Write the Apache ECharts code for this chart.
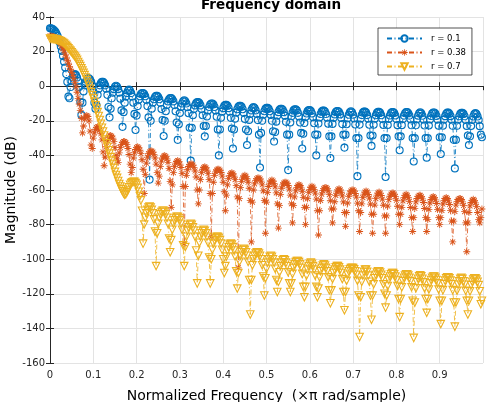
<!DOCTYPE html>
<html>
<head>
<meta charset="utf-8">
<script src="https://cdn.jsdelivr.net/npm/echarts@6/dist/echarts.min.js"></script>
<style>
  html, body { margin: 0; padding: 0; background: #fff; }
  #main { width: 487px; height: 402px; }
</style>
</head>
<body>
<div id="main"></div>
<script>
// normalized frequency (x pi rad/sample), 400 samples
const freq = [
  0, 0.0025, 0.005, 0.0075, 0.01, 0.0125, 0.015, 0.0175, 0.02, 0.0225,
  0.025, 0.0275, 0.03, 0.0325, 0.035, 0.0375, 0.04, 0.0425, 0.045, 0.0475,
  0.05, 0.0525, 0.055, 0.0575, 0.06, 0.0625, 0.065, 0.0675, 0.07, 0.0725,
  0.075, 0.0775, 0.08, 0.0825, 0.085, 0.0875, 0.09, 0.0925, 0.095, 0.0975,
  0.1, 0.1025, 0.105, 0.1075, 0.11, 0.1125, 0.115, 0.1175, 0.12, 0.1225,
  0.125, 0.1275, 0.13, 0.1325, 0.135, 0.1375, 0.14, 0.1425, 0.145, 0.1475,
  0.15, 0.1525, 0.155, 0.1575, 0.16, 0.1625, 0.165, 0.1675, 0.17, 0.1725,
  0.175, 0.1775, 0.18, 0.1825, 0.185, 0.1875, 0.19, 0.1925, 0.195, 0.1975,
  0.2, 0.2025, 0.205, 0.2075, 0.21, 0.2125, 0.215, 0.2175, 0.22, 0.2225,
  0.225, 0.2275, 0.23, 0.2325, 0.235, 0.2375, 0.24, 0.2425, 0.245, 0.2475,
  0.25, 0.2525, 0.255, 0.2575, 0.26, 0.2625, 0.265, 0.2675, 0.27, 0.2725,
  0.275, 0.2775, 0.28, 0.2825, 0.285, 0.2875, 0.29, 0.2925, 0.295, 0.2975,
  0.3, 0.3025, 0.305, 0.3075, 0.31, 0.3125, 0.315, 0.3175, 0.32, 0.3225,
  0.325, 0.3275, 0.33, 0.3325, 0.335, 0.3375, 0.34, 0.3425, 0.345, 0.3475,
  0.35, 0.3525, 0.355, 0.3575, 0.36, 0.3625, 0.365, 0.3675, 0.37, 0.3725,
  0.375, 0.3775, 0.38, 0.3825, 0.385, 0.3875, 0.39, 0.3925, 0.395, 0.3975,
  0.4, 0.4025, 0.405, 0.4075, 0.41, 0.4125, 0.415, 0.4175, 0.42, 0.4225,
  0.425, 0.4275, 0.43, 0.4325, 0.435, 0.4375, 0.44, 0.4425, 0.445, 0.4475,
  0.45, 0.4525, 0.455, 0.4575, 0.46, 0.4625, 0.465, 0.4675, 0.47, 0.4725,
  0.475, 0.4775, 0.48, 0.4825, 0.485, 0.4875, 0.49, 0.4925, 0.495, 0.4975,
  0.5, 0.5025, 0.505, 0.5075, 0.51, 0.5125, 0.515, 0.5175, 0.52, 0.5225,
  0.525, 0.5275, 0.53, 0.5325, 0.535, 0.5375, 0.54, 0.5425, 0.545, 0.5475,
  0.55, 0.5525, 0.555, 0.5575, 0.56, 0.5625, 0.565, 0.5675, 0.57, 0.5725,
  0.575, 0.5775, 0.58, 0.5825, 0.585, 0.5875, 0.59, 0.5925, 0.595, 0.5975,
  0.6, 0.6025, 0.605, 0.6075, 0.61, 0.6125, 0.615, 0.6175, 0.62, 0.6225,
  0.625, 0.6275, 0.63, 0.6325, 0.635, 0.6375, 0.64, 0.6425, 0.645, 0.6475,
  0.65, 0.6525, 0.655, 0.6575, 0.66, 0.6625, 0.665, 0.6675, 0.67, 0.6725,
  0.675, 0.6775, 0.68, 0.6825, 0.685, 0.6875, 0.69, 0.6925, 0.695, 0.6975,
  0.7, 0.7025, 0.705, 0.7075, 0.71, 0.7125, 0.715, 0.7175, 0.72, 0.7225,
  0.725, 0.7275, 0.73, 0.7325, 0.735, 0.7375, 0.74, 0.7425, 0.745, 0.7475,
  0.75, 0.7525, 0.755, 0.7575, 0.76, 0.7625, 0.765, 0.7675, 0.77, 0.7725,
  0.775, 0.7775, 0.78, 0.7825, 0.785, 0.7875, 0.79, 0.7925, 0.795, 0.7975,
  0.8, 0.8025, 0.805, 0.8075, 0.81, 0.8125, 0.815, 0.8175, 0.82, 0.8225,
  0.825, 0.8275, 0.83, 0.8325, 0.835, 0.8375, 0.84, 0.8425, 0.845, 0.8475,
  0.85, 0.8525, 0.855, 0.8575, 0.86, 0.8625, 0.865, 0.8675, 0.87, 0.8725,
  0.875, 0.8775, 0.88, 0.8825, 0.885, 0.8875, 0.89, 0.8925, 0.895, 0.8975,
  0.9, 0.9025, 0.905, 0.9075, 0.91, 0.9125, 0.915, 0.9175, 0.92, 0.9225,
  0.925, 0.9275, 0.93, 0.9325, 0.935, 0.9375, 0.94, 0.9425, 0.945, 0.9475,
  0.95, 0.9525, 0.955, 0.9575, 0.96, 0.9625, 0.965, 0.9675, 0.97, 0.9725,
  0.975, 0.9775, 0.98, 0.9825, 0.985, 0.9875, 0.99, 0.9925, 0.995, 0.9975
];

// magnitude (dB), r = 0.1
const magR010 = [
  33.5, 33.4, 33.2, 32.8, 32.2, 31.4, 30.3, 29, 27.3, 25.3, 23, 20.4, 17.4, 14.2, 10.8, 7, 2.5,
  -6, -7, -0.5, 3, 5, 6.4, 7, 6.4, 5, 3, -0.5, -9,
  -16.6, -9.5, -3, 0.5, 2.5, 3.8, 4.5, 4.5, 3.8, 2.5, 0.5, -3, -9.5,
  -13, -11, -5, -1.5, 0.5, 1.8, 2.5, 2.5, 1.8, 0.5, -1.5, -5, -12,
  -18, -13, -7, -3.7, -1.7, -0.3, 0.3, -0.3, -1.7, -3.7, -7.2, -14,
  -23.5, -15, -9.5, -6, -4, -2.6, -2, -2.6, -4, -6, -9.5, -16,
  -25.3, -17, -11.5, -7.8, -5.8, -4.5, -3.9, -3.9, -4.5, -5.8, -7.9, -11.5, -18,
  -54, -20, -13, -9.5, -7.5, -6.2, -5.6, -5.6, -6.2, -7.5, -9.6, -13.2, -19.5,
  -28.8, -20, -14.5, -10.8, -8.8, -7.5, -6.9, -6.9, -7.5, -8.8, -10.9, -14.5, -21,
  -31, -22, -15.5, -12, -10, -8.7, -8.1, -8.7, -10, -12.1, -15.6, -24,
  -43, -24, -16.8, -13.2, -11.1, -9.8, -9.2, -9.2, -9.8, -11.1, -13.2, -16.8, -23,
  -29, -23, -17.5, -14, -12, -10.6, -10, -10, -10.6, -12, -14, -17.6, -25,
  -40, -25, -18.2, -14.7, -12.7, -11.3, -10.7, -10.7, -11.3, -12.7, -14.8, -18.3, -24.5,
  -36, -25, -18.8, -15.3, -13.3, -11.9, -11.3, -11.3, -11.9, -13.3, -15.4, -18.9, -25,
  -34, -26, -19.5, -16, -14, -12.6, -12, -12.6, -14, -16, -19.6, -28,
  -47, -27, -20, -16.5, -14.5, -13.1, -12.5, -12.5, -13.1, -14.5, -16.6, -20, -26,
  -32, -26.5, -20.5, -17, -15, -13.6, -13, -13, -13.6, -15, -17.1, -20.6, -28,
  -48.5, -28, -21, -17.4, -15.4, -14, -13.4, -13.4, -14, -15.4, -17.5, -21, -27,
  -36, -27.5, -21.3, -17.8, -15.8, -14.4, -13.8, -13.8, -14.4, -15.8, -17.9, -21.4, -28,
  -40, -28, -21.6, -18.1, -16.1, -14.7, -14.1, -14.1, -14.7, -16.1, -18.2, -21.7, -29,
  -41.5, -29, -21.8, -18.3, -16.3, -14.9, -14.3, -14.3, -14.9, -16.3, -18.4, -21.9, -28,
  -35.5, -28, -22, -18.5, -16.5, -15.1, -14.5, -15.1, -16.5, -18.6, -22.1, -30,
  -52, -30, -22.2, -18.7, -16.7, -15.3, -14.7, -14.7, -15.3, -16.7, -18.8, -22.3, -28.5,
  -34.5, -28.5, -22.3, -18.8, -16.8, -15.4, -14.8, -14.8, -15.4, -16.8, -18.9, -22.4, -30,
  -52.5, -30, -22.4, -18.9, -16.9, -15.5, -14.9, -14.9, -15.5, -16.9, -19, -22.5, -29,
  -37, -29, -22.5, -19, -17, -15.6, -15, -15, -15.6, -17, -19.1, -22.6, -30,
  -43.5, -30, -22.6, -19.1, -17.1, -15.7, -15.1, -15.7, -17.1, -19.2, -22.7, -30,
  -41.3, -30, -22.7, -19.2, -17.2, -15.8, -15.2, -15.2, -15.8, -17.2, -19.3, -22.8, -29.5,
  -39.2, -29.5, -22.8, -19.3, -17.3, -15.9, -15.3, -15.3, -15.9, -17.3, -19.4, -22.9, -31,
  -47.5, -31, -22.9, -19.4, -17.4, -16, -15.4, -15.4, -16, -17.4, -19.5, -23, -28.5,
  -34, -29, -23, -19.5, -17.5, -16.1, -15.5, -16.1, -17.5, -19.6, -23.1, -28,
  -29.5
];

// magnitude (dB), r = 0.38
const magR038 = [
  29, 28.95, 28.8, 28.6, 28.3, 27.9, 27.4, 26.8, 26.1, 25.3,
  24.4, 23.3, 22, 20.4, 18.5, 16.8, 15, 13.3, 11.5, 9.8,
  8, 6.3, 4.5, 2.2, -0.5, -3.5, -7, -10.3, -14, -18.5,
  -27, -23, -19, -17.3, -17, -17.5, -20, -26,
  -34, -36, -30, -27, -25, -23.9, -23.5, -24, -25.5, -27.5, -31, -38,
  -46, -41, -35, -31.5, -29.7, -28.8, -28.5, -28.9, -30, -32, -35.5, -40,
  -42, -44, -38.5, -35.5, -33.6, -32.5, -32, -32, -32.6, -33.8, -36, -39.5, -45,
  -50, -47, -41.5, -38.5, -36.6, -35.5, -35, -35.6, -37, -39, -42.5, -48,
  -62, -51, -44.5, -41, -39, -38, -37.5, -37.5, -38.1, -39.4, -41.5, -45, -50,
  -56, -52, -46.5, -43.3, -41.5, -40.5, -40, -40.6, -42, -44, -47.5, -55,
  -70, -57, -50, -46.5, -44.5, -43.5, -43, -43.6, -45, -47, -50.5, -58,
  -91, -58, -51.5, -48.3, -46.4, -45.4, -45, -45, -45.6, -46.9, -49, -52.5, -60,
  -68, -60, -54, -50, -48, -47, -46.5, -47.1, -48.5, -50.5, -54, -62,
  -87, -62, -55.5, -51.5, -49.5, -48.5, -48, -48, -48.6, -49.9, -52, -55.5, -61,
  -72, -63, -57, -53.3, -51.5, -50.5, -50, -50.6, -52, -54, -57.5, -64,
  -105, -65, -58.5, -55, -53, -52, -51.5, -52.1, -53.5, -55.5, -59, -66,
  -90, -67, -60, -56.5, -54.6, -53.5, -53, -53, -53.6, -54.9, -57, -60.5, -66,
  -85, -67, -61.5, -58, -56, -54.8, -54.2, -54.8, -56.2, -58.2, -61.7, -68,
  -82, -69, -62.5, -59, -57, -56, -55.5, -55.5, -56.1, -57.4, -59.5, -63, -68,
  -79, -69, -64, -60.5, -58.6, -57.4, -56.8, -57.4, -58.8, -60.8, -64.3, -70,
  -80, -70, -65, -61.5, -59.6, -58.4, -57.8, -58.4, -59.8, -61.8, -65.3, -72,
  -86, -72, -66, -62.4, -60.4, -59.2, -58.6, -58.6, -59.2, -60.6, -62.7, -66.2, -71,
  -79, -71, -66.8, -63.1, -61.1, -59.9, -59.3, -59.9, -61.3, -63.4, -66.9, -73,
  -81, -73, -67.5, -63.8, -61.8, -60.6, -60, -60, -60.6, -62, -64.1, -67.6, -72,
  -84, -73, -68, -64.4, -62.4, -61.2, -60.6, -61.2, -62.6, -64.7, -68.2, -74,
  -85, -74, -68.7, -65, -63, -61.8, -61.2, -61.8, -63.2, -65.3, -68.8, -75,
  -85, -75, -69.3, -65.6, -63.6, -62.4, -61.8, -61.8, -62.4, -63.8, -65.9, -69.4, -74,
  -80, -74, -70, -66.3, -64.3, -63.1, -62.5, -63.1, -64.5, -66.6, -70.1, -76,
  -84, -76, -70.6, -66.9, -64.9, -63.7, -63.1, -63.1, -63.7, -65.1, -67.2, -70.7, -76,
  -84, -77, -71.2, -67.5, -65.5, -64.3, -63.7, -64.3, -65.7, -67.8, -71.3, -76,
  -80, -76, -71.8, -68.1, -66.1, -64.9, -64.3, -64.9, -66.3, -68.4, -71.9, -78,
  -90, -78, -72.4, -68.7, -66.7, -65.5, -64.9, -64.9, -65.5, -66.9, -69, -72.5, -79,
  -95.7, -79, -73, -69.2, -67.2, -66, -65.4, -66, -67.4, -69.5, -73, -77,
  -79, -76, -71
];

// magnitude (dB), r = 0.7
const magR070 = [
  27.5, 27.45, 27.4, 27.3, 27.2, 27.05, 26.9, 26.7, 26.5, 26.2,
  25.9, 25.5, 25.1, 24.6, 24, 23.3, 22.6, 21.9, 21.1, 20.4,
  19.6, 18.8, 18, 17.2, 16.3, 15.2, 14, 12.8, 11.6, 10.3,
  9, 7.7, 6.4, 5, 3.5, 2, 0.3, -1.5, -3.4, -5.2,
  -7, -9, -11, -13, -15, -17.2, -19.5, -21.7, -24, -26.2,
  -28.5, -30.8, -33, -35, -37, -39, -41, -43, -45, -47.2,
  -49.5, -51.3, -53, -54.8, -56.5, -58, -59.5, -60.8, -62, -62.8,
  -62.5, -61.3, -60, -58.5, -57, -56, -55.5, -55.2, -55.3, -56,
  -57, -58.8, -61, -63.5, -66, -72,
  -91, -80, -76, -73.5, -71.5, -70.1, -69.5, -70.1, -71.5, -73.5, -77, -84,
  -104, -85, -79.5, -76, -74, -72.7, -72, -72, -72.7, -74, -76, -79.5, -88,
  -96, -89, -83, -79.5, -77.5, -76.2, -75.5, -75.5, -76.2, -77.5, -79.5, -83, -92,
  -104, -93, -87, -83.5, -81.5, -80.1, -79.5, -80.1, -81.5, -83.5, -87, -95,
  -114, -98, -90.5, -87, -85, -83.6, -83, -83.6, -85, -87, -90.5, -99,
  -114, -100, -94.5, -91, -89, -87.7, -87, -87, -87.7, -89, -91, -94.5, -100,
  -108, -104, -98.5, -95, -93, -91.6, -91, -91.6, -93, -95, -98.5, -107,
  -117, -108, -101.5, -98, -96, -94.6, -94, -94.6, -96, -98, -101.5, -112,
  -132, -112, -103.5, -100, -98, -96.7, -96, -96, -96.7, -98, -100, -103.5, -110,
  -121, -111, -105.5, -102, -100, -98.6, -98, -98.6, -100, -102, -105.5, -112,
  -119, -113, -107.5, -104, -102, -100.6, -100, -100.6, -102, -104, -107.5, -114,
  -119, -114, -108.5, -105, -103, -101.7, -101, -101, -101.7, -103, -105, -108.5, -116,
  -122, -116, -109.5, -106, -104, -102.6, -102, -102.6, -104, -106, -109.5, -116,
  -122, -117, -110.5, -107, -105, -103.6, -103, -103.6, -105, -107, -110.5, -118,
  -125.5, -118, -111.5, -108, -106, -104.7, -104, -104, -104.7, -106, -108, -111.5, -119,
  -129.5, -119, -112.5, -109, -107, -105.8, -105.1, -105, -105.1, -105.8, -107, -109, -112.5, -121,
  -145, -122, -113, -109.5, -107.3, -106, -106, -107.3, -109.5, -113, -121,
  -135, -121, -114.5, -111, -109, -107.7, -107, -107, -107.7, -109, -111, -114.5, -120,
  -128, -121, -115.5, -112, -110, -108.7, -108, -108, -108.7, -110, -112, -115.5, -123,
  -133.5, -123, -116.2, -112.7, -110.7, -109.4, -108.7, -108.7, -109.4, -110.7, -112.7, -116.2, -124,
  -145.5, -125, -116.8, -113.3, -111.3, -109.9, -109.3, -109.9, -111.3, -113.3, -116.8, -123,
  -131, -123, -117.5, -114, -112, -110.7, -110, -110, -110.7, -112, -114, -117.5, -124,
  -137.5, -124, -117.9, -114.4, -112.4, -111.1, -110.4, -110.4, -111.1, -112.4, -114.4, -117.9, -125,
  -139, -125, -118.3, -114.8, -112.8, -111.4, -110.8, -111.4, -112.8, -114.8, -118.3, -124,
  -132, -124, -118.5, -115, -113, -111.7, -111, -111, -111.7, -113, -115, -118.5, -126,
  -124
];

const seriesNames = ['r = 0.1', 'r = 0.38', 'r = 0.7'];
const xTicks = [0, 0.1, 0.2, 0.3, 0.4, 0.5, 0.6, 0.7, 0.8, 0.9];
const yTicks = [-160, -140, -120, -100, -80, -60, -40, -20, 0, 20, 40];

const blue = '#0072BD';
const orange = '#D95319';
const yellow = '#EDB120';
const axisColor = '#262626';
const font = '"DejaVu Sans", "Liberation Sans", Arial, sans-serif';

// asterisk marker built from four thin bars
const asterisk = 'path://M8.8 0L11.2 0L11.2 20L8.8 20Z M0 8.8L20 8.8L20 11.2L0 11.2Z ' +
  'M2.1 3.8L3.8 2.1L17.9 16.2L16.2 17.9Z M16.2 2.1L17.9 3.8L3.8 17.9L2.1 16.2Z';

const pairs = (ys) => ys.map((y, i) => [freq[i], y]);
const dashDot = [5, 2.5, 1, 2.5];

const chart = echarts.init(document.getElementById('main'));
const option = {
  animation: false,
  backgroundColor: '#fff',
  title: {
    text: 'Frequency domain',
    left: 266,
    textAlign: 'center',
    top: -7,
    textStyle: { fontFamily: font, fontSize: 13.5, fontWeight: 'bold', color: '#000' }
  },
  legend: {
    data: seriesNames,
    orient: 'vertical',
    left: 378,
    top: 28,
    padding: [6, 6, 4, 8],
    itemGap: 5,
    itemWidth: 35,
    itemHeight: 8,
    backgroundColor: '#fff',
    borderColor: axisColor,
    borderWidth: 0.8,
    borderRadius: 0,
    textStyle: { fontFamily: font, fontSize: 8.5, color: '#000', padding: [0, 0, 0, 4] }
  },
  grid: { left: 50, right: 4, top: 17, bottom: 39, containLabel: false, outerBoundsMode: 'none' },
  xAxis: [
    {
      type: 'value',
      min: xTicks[0],
      max: 1,
      interval: 0.1,
      name: 'Normalized Frequency  (×π rad/sample)',
      nameLocation: 'middle',
      nameGap: 26,
      nameTextStyle: { fontFamily: font, fontSize: 14, color: '#000' },
      axisLine: { show: true, lineStyle: { color: axisColor, width: 1 } },
      axisTick: { show: true, inside: true, length: 4, lineStyle: { color: axisColor } },
      axisLabel: {
        show: true, showMaxLabel: false, margin: 7,
        fontFamily: font, fontSize: 10, color: axisColor,
        formatter: (v) => {
          const t = Math.round(v * 10) / 10;
          return xTicks.indexOf(t) >= 0 ? String(t) : '';
        }
      },
      splitLine: { show: true, lineStyle: { color: '#e3e3e3', width: 1 } }
    },
    {
      type: 'value',
      position: 'top',
      min: xTicks[0],
      max: 1,
      interval: 0.1,
      axisLine: { show: true, lineStyle: { color: axisColor, width: 1 } },
      axisTick: { show: true, inside: true, length: 4, lineStyle: { color: axisColor } },
      axisLabel: { show: false },
      splitLine: { show: false }
    }
  ],
  yAxis: [
    {
      type: 'value',
      min: yTicks[0],
      max: yTicks[yTicks.length - 1],
      interval: 20,
      name: 'Magnitude (dB)',
      nameLocation: 'middle',
      nameGap: 32,
      nameMoveOverlap: false,
      nameTextStyle: { fontFamily: font, fontSize: 14, color: '#000' },
      axisLine: { show: true, lineStyle: { color: axisColor, width: 1 } },
      axisTick: { show: true, inside: true, length: 4, lineStyle: { color: axisColor } },
      axisLabel: { margin: 5, fontFamily: font, fontSize: 10, color: axisColor },
      splitLine: { show: true, lineStyle: { color: '#e3e3e3', width: 1 } }
    },
    {
      type: 'value',
      position: 'right',
      min: yTicks[0],
      max: yTicks[yTicks.length - 1],
      interval: 20,
      axisLine: { show: true, lineStyle: { color: axisColor, width: 1 } },
      axisTick: { show: true, inside: true, length: 4, lineStyle: { color: axisColor } },
      axisLabel: { show: false },
      splitLine: { show: false }
    }
  ],
  series: [
    {
      name: seriesNames[0],
      type: 'line',
      data: pairs(magR010),
      symbol: 'circle',
      symbolSize: 7,
      showAllSymbol: true,
      itemStyle: { color: 'rgba(0,0,0,0)', borderColor: blue, borderWidth: 1.1 },
      lineStyle: { color: blue, width: 0.8, type: dashDot }
    },
    {
      name: seriesNames[1],
      type: 'line',
      data: pairs(magR038),
      symbol: asterisk,
      symbolSize: 7,
      showAllSymbol: true,
      itemStyle: { color: orange, borderWidth: 0 },
      lineStyle: { color: orange, width: 0.8, type: dashDot }
    },
    {
      name: seriesNames[2],
      type: 'line',
      data: pairs(magR070),
      symbol: 'triangle',
      symbolRotate: 180,
      symbolSize: 7.5,
      showAllSymbol: true,
      itemStyle: { color: 'rgba(0,0,0,0)', borderColor: yellow, borderWidth: 1.1 },
      lineStyle: { color: yellow, width: 0.8, type: dashDot }
    }
  ]
};
option && chart.setOption(option);
</script>
</body>
</html>
